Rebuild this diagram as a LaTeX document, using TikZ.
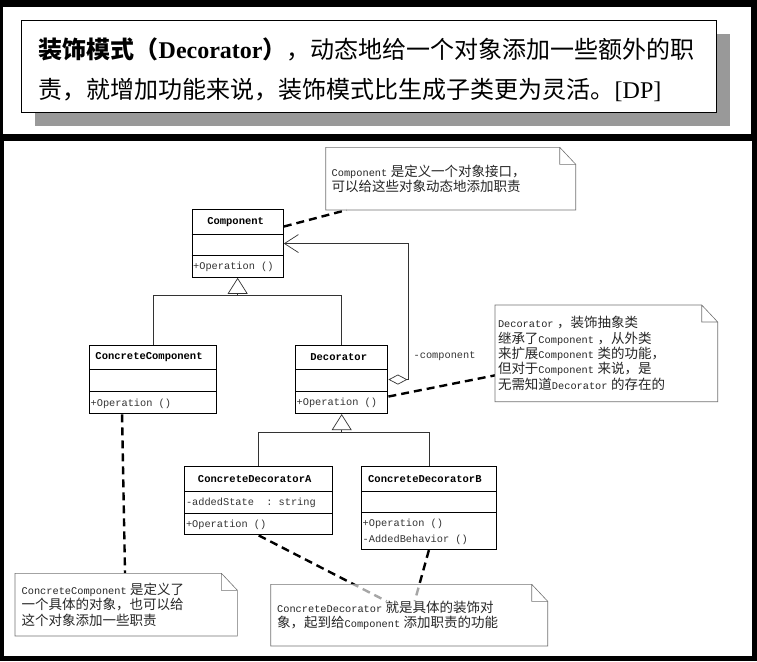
\documentclass[tikz,border=0pt]{standalone}
\usepackage{fontspec}
\setmainfont{Liberation Serif}
\setmonofont{Liberation Mono}
\newfontfamily\zhfont[Scale=1.31]{Noto Sans CJK SC}
\newfontfamily\zhtitle{Noto Sans CJK SC}
\newcommand\zh[1]{{\zhfont #1}}
\usetikzlibrary{arrows.meta,shadows,positioning}
\pgfdeclarelayer{bg}
\pgfsetlayers{bg,main}

\tikzset{
	umlbox/.style={draw, line width=1.1pt, fill=white, anchor=north west, inner sep=0pt},
	umldiv/.style={line width=0.8pt},
	umltitle/.style={font=\ttfamily\bfseries\fontsize{10.5}{12}\selectfont, inner sep=0pt},
	umlmember/.style={font=\ttfamily\fontsize{10.3}{12}\selectfont, text=black!80, anchor=west, inner xsep=1.5pt, inner ysep=0pt},
	genline/.style={line width=0.7pt, black!80},
	gentip/.style={-{Triangle[open, length=16pt, width=20pt]}, line width=0.7pt, black!80},
	assoc/.style={{Diamond[open, length=19pt, width=10pt]}-{Straight Barb[length=14pt, width=18pt]}, line width=0.7pt, black!80},
	notebox/.style={anchor=north west, fill=white, fill opacity=0.65, text opacity=1, align=left, inner ysep=0pt, outer sep=0pt, font=\ttfamily\fontsize{10.3}{15.3}\selectfont, text=black!85},
	notefold/.style={draw=black!55, line width=0.6pt},
	notelink/.style={line width=2.4pt, dash pattern=on 8pt off 5pt},
}

\begin{document}
\begin{tikzpicture}[x=1pt, y=-1pt]
	% frame: black ground, two white panels
	\begin{pgfonlayer}{bg}
		\fill[black] (0,0) rectangle (757,661);
		\fill[white] (3,7) rectangle (751,134);
		\fill[white] (4,141) rectangle (752,656);
	\end{pgfonlayer}
	\useasboundingbox (0,0) rectangle (757,661);

	% definition box
	\node[draw, line width=1.4pt, fill=white, anchor=north west, minimum width=695pt, minimum height=92pt, inner sep=0pt,
		drop shadow={shadow xshift=13pt, shadow yshift=-13pt, fill=black!40, opacity=1}] (tbox) at (21,20) {};
	\node[anchor=west, align=left, inner sep=0pt, font=\fontsize{24}{40}\selectfont] (ttl) at (38.5,70)
		{{\zhtitle\bfseries 装饰模式（}\textbf{Decorator}{\zhtitle\bfseries ）}{\zhtitle ，动态地给一个对象添加一些额外的职}\\
		 {\zhtitle 责，就增加功能来说，装饰模式比生成子类更为灵活。}[DP]};

	% classes
	\node[umlbox, minimum width=91.2pt, minimum height=67.4pt] (comp) at (191.5,209.3) {};
	\draw[umldiv] ([yshift=-24.7pt]comp.north west) -- ([yshift=-24.7pt]comp.north east);
	\draw[umldiv] ([yshift=-45.7pt]comp.north west) -- ([yshift=-45.7pt]comp.north east);
	\node[umltitle] (compname) at ([xshift=-2pt,yshift=-12.3pt]comp.north) {Component};
	\node[umlmember] (compop) at ([yshift=10.7pt]comp.south west) {+Operation ()};

	\node[umlbox, minimum width=127pt, minimum height=68.3pt] (cc) at (89,345) {};
	\draw[umldiv] ([yshift=-24.3pt]cc.north west) -- ([yshift=-24.3pt]cc.north east);
	\draw[umldiv] ([yshift=-46.7pt]cc.north west) -- ([yshift=-46.7pt]cc.north east);
	\node[umltitle] (ccname) at ([xshift=-4pt,yshift=-12.2pt]cc.north) {ConcreteComponent};
	\node[umlmember] (ccop) at ([yshift=10.8pt]cc.south west) {+Operation ()};

	\node[umlbox, minimum width=92.3pt, minimum height=68pt] (dec) at (295,345) {};
	\draw[umldiv] ([yshift=-24.3pt]dec.north west) -- ([yshift=-24.3pt]dec.north east);
	\draw[umldiv] ([yshift=-46.7pt]dec.north west) -- ([yshift=-46.7pt]dec.north east);
	\node[umltitle] (decname) at ([xshift=-3pt,yshift=-12.2pt]dec.north) {Decorator};
	\node[umlmember] (decop) at ([yshift=10.8pt]dec.south west) {+Operation ()};

	\node[umlbox, minimum width=147.7pt, minimum height=68.3pt] (cda) at (184.3,466) {};
	\draw[umldiv] ([yshift=-25.7pt]cda.north west) -- ([yshift=-25.7pt]cda.north east);
	\draw[umldiv] ([yshift=-47pt]cda.north west) -- ([yshift=-47pt]cda.north east);
	\node[umltitle] (cdaname) at ([xshift=-4pt,yshift=-12.8pt]cda.north) {ConcreteDecoratorA};
	\node[umlmember] (cdaattr) at ([yshift=32.6pt]cda.south west) {-addedState~~:~string};
	\node[umlmember] (cdaop) at ([yshift=11pt]cda.south west) {+Operation ()};

	\node[umlbox, minimum width=134.7pt, minimum height=83pt] (cdb) at (361,466) {};
	\draw[umldiv] ([yshift=-25.7pt]cdb.north west) -- ([yshift=-25.7pt]cdb.north east);
	\draw[umldiv] ([yshift=-46.7pt]cdb.north west) -- ([yshift=-46.7pt]cdb.north east);
	\node[umltitle] (cdbname) at ([xshift=-4pt,yshift=-12.8pt]cdb.north) {ConcreteDecoratorB};
	\node[umlmember] (cdbop) at ([yshift=26.3pt]cdb.south west) {+Operation ()};
	\node[umlmember] (cdbadd) at ([yshift=10pt]cdb.south west) {-AddedBehavior ()};

	% inheritance
	\coordinate (g1) at ([yshift=-17.5pt]comp.south);
	\draw[genline] (cc.north) |- (g1) -| (dec.north);
	\draw[gentip] (g1) -- (comp.south);
	\coordinate (g2) at ([yshift=-18pt]dec.south);
	\draw[genline] (cda.north) |- (g2) -| (cdb.north);
	\draw[gentip] (g2) -- (dec.south);

	% aggregation Decorator -> Component
	\draw[assoc] (dec.east) -- ++(20,0) |- (comp.east);
	\node[umlmember] (role) at (412,356) {-component};

	% notes
	\node[notebox, text width=238pt, inner xsep=6pt, minimum height=62.7pt] (n1) at (325.7,147.3)
		{Component \zh{是定义一个对象接口，}\\\zh{可以给这些对象动态地添加职责}};
	\node[notebox, text width=216.7pt, inner xsep=3pt, minimum height=96.7pt] (n2) at (495,305)
		{Decorator \zh{，装饰抽象类}\\\zh{继承了}Component \zh{，从外类}\\\zh{来扩展}Component \zh{类的功能，}\\\zh{但对于}Component \zh{来说，是}\\\zh{无需知道}Decorator \zh{的存在的}};
	\node[notebox, text width=209pt, inner xsep=6.7pt, minimum height=62.7pt] (n3) at (15,573.3)
		{ConcreteComponent \zh{是定义了}\\\zh{一个具体的对象，也可以给}\\\zh{这个对象添加一些职责}};
	\node[notebox, text width=264pt, inner xsep=6.5pt, minimum height=61.7pt] (n4) at (270.7,584.3)
		{ConcreteDecorator \zh{就是具体的装饰对}\\\zh{象，起到给}Component \zh{添加职责的功能}};
	\foreach \n in {n1,n2,n3,n4}
		\draw[notefold] (\n.north west) -- ([xshift=-16pt]\n.north east) -- ([yshift=-17pt]\n.north east)
			-- (\n.south east) -- (\n.south west) -- cycle
			([xshift=-16pt]\n.north east) |- ([yshift=-17pt]\n.north east);

	% note links, under the notes
	\begin{pgfonlayer}{bg}
		\draw[notelink] ([yshift=17pt]comp.east) -- ([xshift=21pt]n1.south west);
		\draw[notelink] ([yshift=-17pt]dec.east) -- ([yshift=-22pt]n2.west);
		\draw[notelink] ([xshift=-31pt]cc.south) -- ([xshift=110pt]n3.north west);
		\draw[notelink] (cda.south) -- ([xshift=116pt,yshift=-17pt]n4.north west);
		\draw[notelink] (cdb.south) -- ([xshift=144pt,yshift=-17pt]n4.north west);
	\end{pgfonlayer}
\end{tikzpicture}
\end{document}
